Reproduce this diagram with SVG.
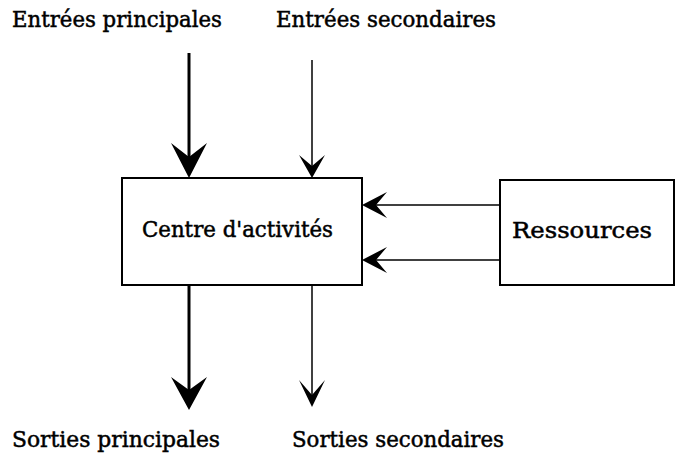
<svg xmlns="http://www.w3.org/2000/svg" width="678" height="457" viewBox="0 0 678 457">
<style>
text{font-family:"DejaVu Serif","Liberation Serif",serif;font-size:22px;fill:#000;stroke:#000;stroke-width:0.5}
.box{fill:#fff;stroke:#000;stroke-width:2}
.thick{stroke:#000;stroke-width:3;fill:none}
.thin{stroke:#000;stroke-width:1.5;fill:none}
.head{fill:#000;stroke:none}
</style>
<rect width="678" height="457" fill="#fff"/>
<g id="labels">
<text x="12" y="27" textLength="210" lengthAdjust="spacingAndGlyphs">Entrées principales</text>
<text x="276" y="27" textLength="220" lengthAdjust="spacingAndGlyphs">Entrées secondaires</text>
<text x="12" y="447" textLength="208" lengthAdjust="spacingAndGlyphs">Sorties principales</text>
<text x="292" y="447" textLength="212" lengthAdjust="spacingAndGlyphs">Sorties secondaires</text>
</g>
<g id="node-centre">
<rect class="box" x="122" y="178" width="240" height="107"/>
<text x="142" y="237" textLength="191" lengthAdjust="spacingAndGlyphs">Centre d'activités</text>
</g>
<g id="node-ressources">
<rect class="box" x="500" y="180" width="174" height="105"/>
<text x="512" y="238" textLength="140" lengthAdjust="spacingAndGlyphs">Ressources</text>
</g>
<g id="connectors">
<line class="thick" x1="189" y1="53" x2="189" y2="160"/>
<path class="head" d="M189,178 L171,143 L189,157 L207,143 Z"/>
<line class="thin" x1="312" y1="60" x2="312" y2="168"/>
<path class="head" d="M312,178 L299,155 L312,166 L325,155 Z"/>
<line class="thick" x1="189" y1="285" x2="189" y2="392"/>
<path class="head" d="M189,410 L171,377 L189,390 L207,377 Z"/>
<line class="thin" x1="312" y1="285" x2="312" y2="397"/>
<path class="head" d="M312,407 L299,380 L312,395 L325,380 Z"/>
<line class="thin" x1="374" y1="205" x2="500" y2="205"/>
<path class="head" d="M362,205 L387,192 L376,205 L387,218 Z"/>
<line class="thin" x1="374" y1="260" x2="500" y2="260"/>
<path class="head" d="M362,260 L387,247 L376,260 L387,273 Z"/>
</g>
</svg>
